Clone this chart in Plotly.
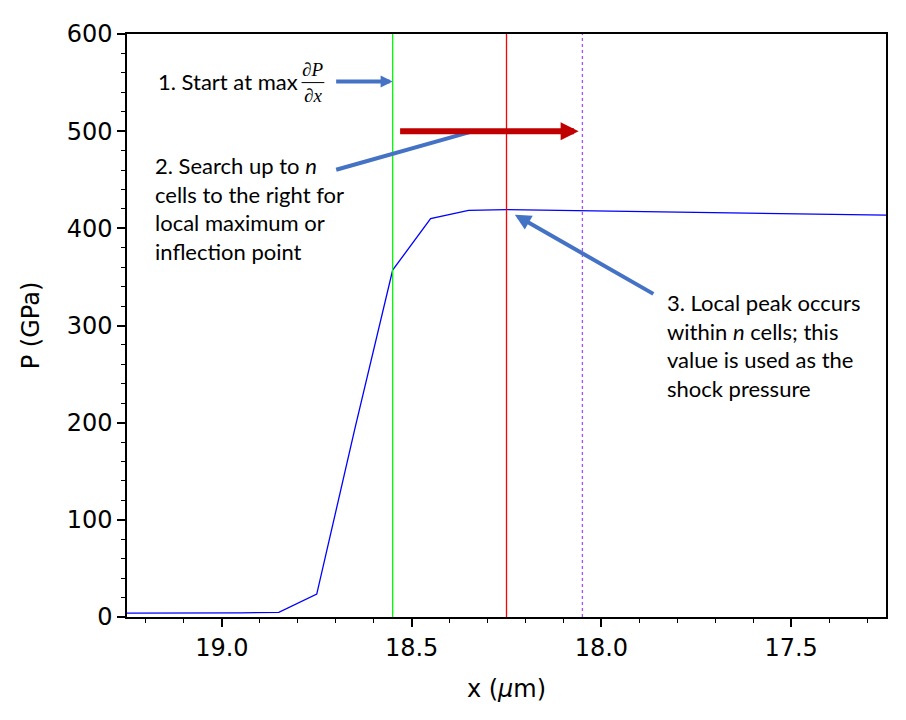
import plotly.graph_objects as go

# cell centres (um) and pressure (GPa)
x_um = [19.25, 19.15, 19.05, 18.95, 18.85, 18.75, 18.65, 18.55, 18.45, 18.35,
        18.25, 18.15, 18.05, 17.95, 17.85, 17.75, 17.65, 17.55, 17.45, 17.35, 17.25]
p_gpa = [4.0, 4.0, 4.1, 4.3, 4.8, 23.5, 193.0, 357.0, 410.0, 418.5,
         419.3, 418.8, 418.2, 417.6, 417.0, 416.4, 415.8, 415.2, 414.6, 414.1, 413.6]

x_start = 18.55   # max dP/dx
x_peak = 18.25    # local peak
x_limit = 18.05   # n cells to the right

note_font = dict(family='Lato', size=22, color='black')
frac_font = dict(family='Liberation Serif', size=19, color='black')
arrow_blue = '#4472C4'
arrow_red = '#C00000'

fig = go.Figure()

fig.add_trace(go.Scatter(
    x=x_um, y=p_gpa, mode='lines',
    line=dict(color='#0000FF', width=1.3),
    showlegend=False, hoverinfo='skip'
))

# vertical markers
fig.add_vline(x=x_start, line_color='#00FF00', line_width=1.3)
fig.add_vline(x=x_peak, line_color='#FF0000', line_width=1.3)
fig.add_vline(x=x_limit, line_color='#A64DFF', line_width=1.3, line_dash='dot')

# 1. start
fig.add_annotation(x=19.173, y=551, xref='x', yref='y', text='1. Start at max',
                   showarrow=False, xanchor='left', yanchor='middle', font=note_font)
fig.add_annotation(x=18.760, y=563, xref='x', yref='y', text='∂<i>P</i>',
                   showarrow=False, xanchor='center', yanchor='middle', font=frac_font)
fig.add_annotation(x=18.760, y=537, xref='x', yref='y', text='∂<i>x</i>',
                   showarrow=False, xanchor='center', yanchor='middle', font=frac_font)
fig.add_shape(type='line', xref='x', yref='y', x0=18.790, x1=18.730, y0=550, y1=550,
              line=dict(color='black', width=1))
fig.add_annotation(x=x_start, y=551, xref='x', yref='y', text='', showarrow=True,
                   ax=-58, ay=0, arrowhead=2, arrowsize=0.6, arrowwidth=4,
                   arrowcolor=arrow_blue, standoff=0)

# 2. search
fig.add_annotation(x=19.182, y=420, xref='x', yref='y',
                   text='2. Search up to <i>n</i><br>cells to the right for<br>'
                        'local maximum or<br>inflection point',
                   showarrow=False, xanchor='left', yanchor='middle', align='left',
                   font=note_font)
fig.add_annotation(x=18.347, y=499, xref='x', yref='y', text='', showarrow=True,
                   ax=-135, ay=38, arrowhead=0, arrowwidth=4,
                   arrowcolor=arrow_blue, standoff=0)
fig.add_annotation(x=18.06, y=500, xref='x', yref='y', text='', showarrow=True,
                   ax=-180, ay=0, arrowhead=2, arrowsize=0.6, arrowwidth=6,
                   arrowcolor=arrow_red, standoff=0)

# 3. peak
fig.add_annotation(x=17.832, y=279, xref='x', yref='y',
                   text='3. Local peak occurs<br>within <i>n</i> cells; this<br>'
                        'value is used as the<br>shock pressure',
                   showarrow=False, xanchor='left', yanchor='middle', align='left',
                   font=note_font)
fig.add_annotation(x=18.228, y=414, xref='x', yref='y', text='', showarrow=True,
                   ax=140, ay=80, arrowhead=2, arrowsize=0.8, arrowwidth=4,
                   arrowcolor=arrow_blue, standoff=0)

axis_style = dict(showline=True, linecolor='black', linewidth=1.5, mirror=True,
                  ticks='outside', ticklen=8, tickwidth=1.5, tickcolor='black',
                  showgrid=False, zeroline=False,
                  tickfont=dict(family='DejaVu Sans', size=24, color='black'))

fig.update_xaxes(range=[19.25, 17.25], tick0=0, dtick=0.5, tickformat='.1f',
                 minor=dict(dtick=0.1, ticks='outside', ticklen=4.5, tickwidth=1.2,
                            tickcolor='black'),
                 title=dict(text='x (<i>μ</i>m)', standoff=20,
                            font=dict(family='DejaVu Sans', size=24, color='black')),
                 **axis_style)
fig.update_yaxes(range=[0, 600], dtick=100,
                 minor=dict(dtick=20, ticks='outside', ticklen=4.5, tickwidth=1.2,
                            tickcolor='black'),
                 title=dict(text='P (GPa)', standoff=20,
                            font=dict(family='DejaVu Sans', size=24, color='black')),
                 **axis_style)

# page adds an 8px body margin, so the figure is trimmed by that much
fig.update_layout(
    width=898, height=712,
    margin=dict(l=119, r=20, t=22, b=103),
    plot_bgcolor='white', paper_bgcolor='white',
    showlegend=False
)

fig.write_html('out.html')
